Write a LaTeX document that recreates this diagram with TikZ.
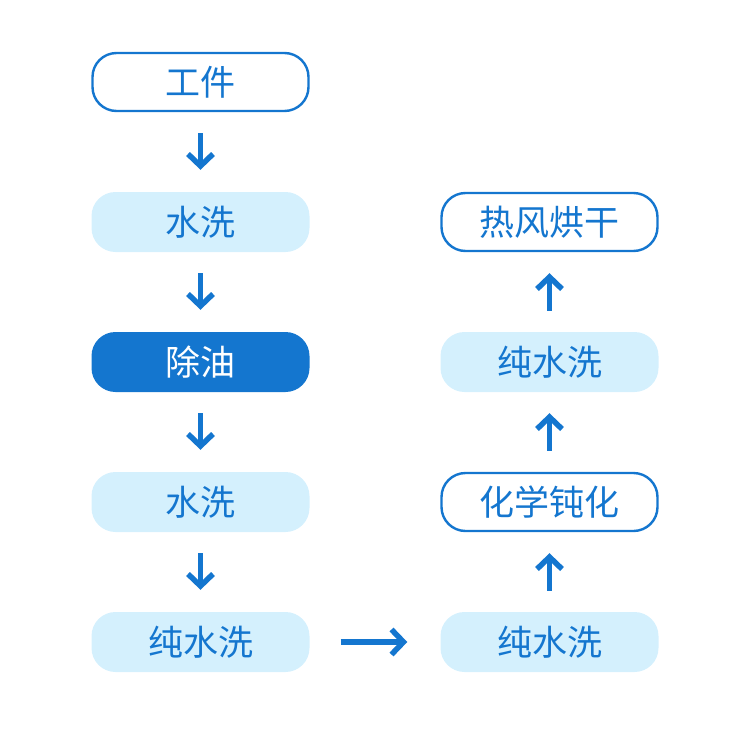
\documentclass[tikz,border=0pt]{standalone}
\usepackage{fontspec}
\newfontfamily\cjk{Noto Sans CJK SC}
\usetikzlibrary{arrows.meta}
\definecolor{mainblue}{HTML}{1476CF}
\definecolor{lightblue}{HTML}{D4F0FD}
\tikzset{
  box/.style={rounded corners=24pt, minimum width=218pt, minimum height=60pt, inner sep=0pt,
    font=\cjk\fontsize{35}{40}\selectfont, text=mainblue},
  outlinebox/.style={box, draw=mainblue, line width=2.4pt, fill=white, minimum width=216pt, minimum height=58pt},
  softbox/.style={box, fill=lightblue},
  darkbox/.style={box, fill=mainblue, text=white},
  flow/.style={draw=mainblue, line width=5.5pt, -{Straight Barb[length=12pt,width=25pt]}},
}
\begin{document}
\begin{tikzpicture}[x=1pt,y=-1pt]
\useasboundingbox (0,0) rectangle (750,734);
\node[outlinebox] (a) at (200.5,82) {工件};
\node[softbox] (b) at (200.5,222) {水洗};
\node[darkbox] (c) at (200.5,362) {除油};
\node[softbox] (d) at (200.5,502) {水洗};
\node[softbox] (e) at (200.5,642) {纯水洗};
\node[softbox] (f) at (549.5,642) {纯水洗};
\node[outlinebox] (g) at (549.5,502) {化学钝化};
\node[softbox] (h) at (549.5,362) {纯水洗};
\node[outlinebox] (i) at (549.5,222) {热风烘干};
\draw[flow, shorten <=21pt, shorten >=22pt] (a.south) -- (b.north);
\draw[flow, shorten <=21pt, shorten >=22pt] (b.south) -- (c.north);
\draw[flow, shorten <=21pt, shorten >=22pt] (c.south) -- (d.north);
\draw[flow, shorten <=21pt, shorten >=22pt] (d.south) -- (e.north);
\draw[flow, shorten <=31pt, shorten >=33pt] (e.east) -- (f.west);
\draw[flow, shorten <=21pt, shorten >=21pt] (f.north) -- (g.south);
\draw[flow, shorten <=21pt, shorten >=21pt] (g.north) -- (h.south);
\draw[flow, shorten <=21pt, shorten >=21pt] (h.north) -- (i.south);
\end{tikzpicture}
\end{document}
